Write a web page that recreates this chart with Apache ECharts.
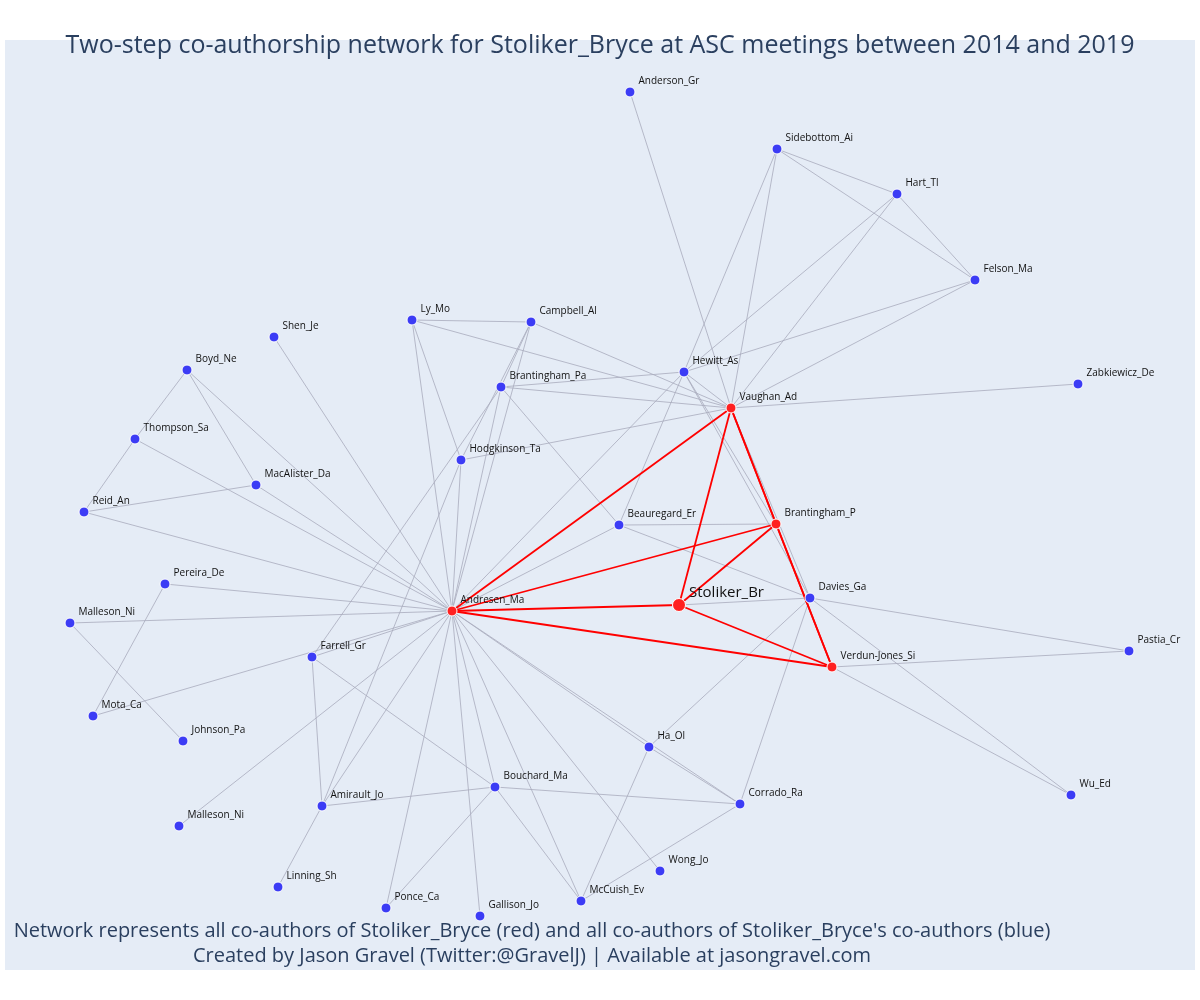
<!DOCTYPE html>
<html>
<head>
<meta charset="utf-8">
<script src="https://cdn.jsdelivr.net/npm/echarts@6/dist/echarts.min.js"></script>
<style>html,body{margin:0;padding:0;background:#fff}#container{width:1200px;height:1000px}</style>
</head>
<body>
<div id="container"></div>
<script>
var dom = document.getElementById("container");
var myChart = echarts.init(dom);

// node names, layout positions (x, y in layout units) and group (1 = direct co-author)
var nodeNames = ['Anderson_Gr', 'Sidebottom_Ai', 'Hart_Tl', 'Felson_Ma', 'Zabkiewicz_De', 'Ly_Mo', 'Campbell_Al',
    'Shen_Je', 'Boyd_Ne', 'Hewitt_As', 'Brantingham_Pa', 'Vaughan_Ad', 'Thompson_Sa', 'Hodgkinson_Ta',
    'MacAlister_Da', 'Reid_An', 'Beauregard_Er', 'Brantingham_P', 'Pereira_De', 'Stoliker_Br', 'Davies_Ga',
    'Andresen_Ma', 'Malleson_Ni', 'Pastia_Cr', 'Farrell_Gr', 'Verdun-Jones_Si', 'Mota_Ca', 'Johnson_Pa',
    'Ha_Ol', 'Bouchard_Ma', 'Corrado_Ra', 'Wu_Ed', 'Amirault_Jo', 'Malleson_Ni', 'Wong_Jo', 'Linning_Sh',
    'McCuish_Ev', 'Ponce_Ca', 'Gallison_Jo'];
var nodeX = [625, 772, 892, 970, 1073, 407, 526, 269, 182, 679, 496, 726, 130, 456, 251, 79, 614, 771, 160,
    674, 805, 447, 65, 1124, 307, 827, 88, 178, 644, 490, 735, 1066, 317, 174, 655, 273, 576, 381, 475];
var nodeY = [52, 109, 154, 240, 344, 280, 282, 297, 330, 332, 347, 368, 399, 420, 445, 472, 485, 484, 544,
    565, 558, 571, 583, 611, 617, 627, 676, 701, 707, 747, 764, 755, 766, 786, 831, 847, 861, 868, 876];
var nodeGroup = [0, 0, 0, 0, 0, 0, 0, 0, 0, 0, 0, 1, 0, 0, 0, 0, 0, 1, 0, 2, 0, 1, 0, 0, 0, 1, 0, 0, 0, 0, 0,
    0, 0, 0, 0, 0, 0, 0, 0];

// co-authorship edges (node indices)
var greyEdges = [[0, 11], [1, 2], [1, 3], [1, 11], [1, 9], [2, 3], [2, 11], [2, 9], [3, 11], [3, 9], [4, 11],
    [5, 6], [5, 11], [5, 13], [5, 21], [6, 11], [6, 13], [6, 21], [6, 10], [7, 21], [8, 12], [8, 14], [8, 21],
    [12, 15], [12, 21], [15, 14], [15, 21], [14, 21], [9, 10], [9, 11], [9, 21], [9, 16], [9, 20], [9, 17],
    [10, 11], [10, 21], [10, 16], [10, 24], [13, 11], [13, 21], [13, 32], [16, 21], [16, 17], [16, 20],
    [11, 20], [18, 26], [22, 27], [22, 21], [18, 21], [26, 21], [24, 21], [24, 32], [24, 29], [20, 23],
    [25, 23], [20, 31], [25, 31], [20, 28], [20, 30], [20, 19], [28, 21], [28, 30], [28, 36], [21, 30],
    [21, 29], [21, 32], [21, 34], [21, 38], [21, 37], [21, 36], [21, 33], [29, 32], [29, 30], [29, 36],
    [29, 37], [32, 35], [30, 36]];
var redEdges = [[19, 21], [19, 11], [19, 17], [19, 25], [21, 11], [21, 17], [21, 25], [11, 17], [11, 25],
    [17, 25]];

var nodes = nodeNames.map(function (name, i) {
    var g = nodeGroup[i];
    return {
        id: String(i),
        name: name,
        value: [nodeX[i], nodeY[i]],
        symbolSize: g === 2 ? 13 : 10,
        itemStyle: {color: g ? '#ff2020' : '#3c3cf5', borderColor: '#ffffff', borderWidth: 1},
        label: g === 2 ? {fontSize: 15, offset: [-2, -12]} : {}
    };
});
var links = greyEdges.map(function (e) {
    return {source: String(e[0]), target: String(e[1]), lineStyle: {color: '#a9abbd', width: 1, opacity: 0.8}};
}).concat(redEdges.map(function (e) {
    return {source: String(e[0]), target: String(e[1]), lineStyle: {color: '#ff0000', width: 1.8, opacity: 1}};
}));

var option = {
    backgroundColor: '#ffffff',
    title: {
        text: 'Two-step co-authorship network for Stoliker_Bryce at ASC meetings between 2014 and 2019',
        left: 'center',
        top: 28,
        textStyle: {color: '#2a3f5f', fontSize: 25, fontWeight: 'normal', fontFamily: 'Open Sans'}
    },
    graphic: [{
        type: 'rect', left: 5, top: 40, z: -10,
        shape: {width: 1190, height: 930},
        style: {fill: '#e5ecf6'}
    }, {
        type: 'text', x: 532, y: 919,
        style: {
            text: "Network represents all co-authors of Stoliker_Bryce (red) and all co-authors of Stoliker_Bryce's co-authors (blue)\nCreated by Jason Gravel (Twitter:@GravelJ) | Available at jasongravel.com",
            fill: '#2a3f5f', font: '20px "Open Sans"', lineHeight: 25, align: 'center'
        }
    }],
    grid: {left: 5, top: 40, width: 1190, height: 930},
    xAxis: {type: 'value', min: 0, max: 1190, show: false},
    yAxis: {type: 'value', min: 0, max: 930, inverse: true, show: false},
    series: [{
        type: 'graph',
        coordinateSystem: 'cartesian2d',
        layout: 'none',
        data: nodes,
        links: links,
        z: 3,
        label: {
            show: true, position: 'right', offset: [-2, -11],
            fontSize: 10, color: '#111111', fontFamily: 'Open Sans'
        },
        emphasis: {disabled: true}
    }]
};
myChart.setOption(option);
</script>
</body>
</html>
